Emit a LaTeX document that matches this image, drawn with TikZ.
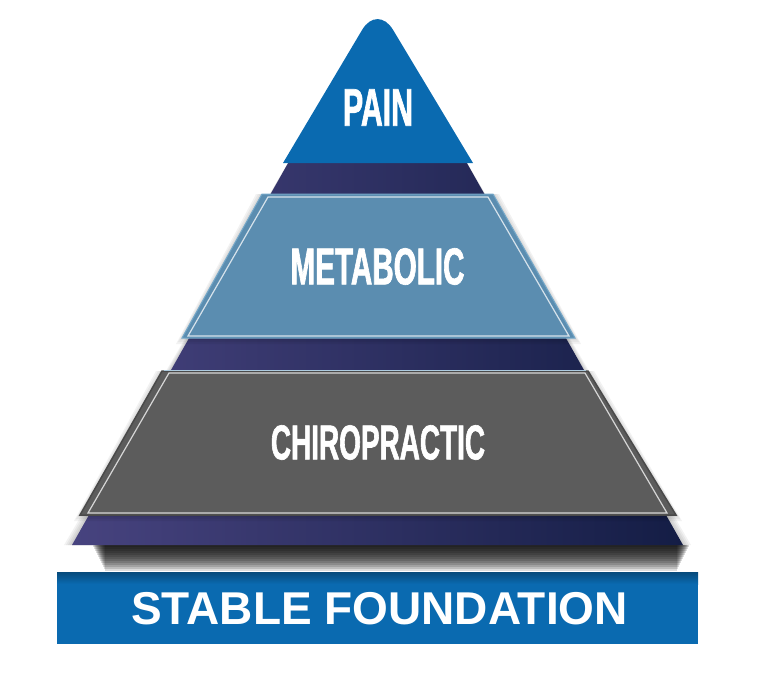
\documentclass[tikz,border=0pt]{standalone}
\usepackage{fontspec}
\setmainfont{Liberation Sans}
\newfontfamily\narrowfont[FakeStretch=0.57,FakeBold=1.2]{Liberation Sans}
\definecolor{painblue}{HTML}{0A6AB0}
\definecolor{metablue}{HTML}{5B8DB0}
\definecolor{metaedge}{HTML}{74A7C8}
\definecolor{chirogray}{HTML}{5C5C5C}
\definecolor{chiroedge}{HTML}{4A4A4A}
\definecolor{bandleft}{HTML}{47437F}
\definecolor{bandright}{HTML}{141D45}
\tikzset{
  layertext/.style={text=white,inner sep=0pt,font=\narrowfont\bfseries},
  innerline/.style={draw=white!75!#1,line width=1.2pt},
  softshadow/.style={fill=black,opacity=.05},
}

\begin{document}
\begin{tikzpicture}[x=1pt,y=-1pt]
  \useasboundingbox (0,0) rectangle (770,697);
  % shadows
  \foreach \i in {1,...,13}
    \fill[black,opacity=.14] (92+\i,545) rectangle (690-\i,545+2*\i);
  \foreach \i in {2,4,6,8}
    \fill[softshadow] (72-\i,545) -- (683+\i,545) -- (459.5,150) -- (295.5,150) -- cycle;
  % dark body of the pyramid
  \shade[left color=bandleft,right color=bandright]
    (72,545) -- (683,545) -- (459.5,150) -- (295.5,150) -- cycle;
  % top
  \fill[painblue]
    (283,163) [rounded corners=30pt] -- (377.5,4) [sharp corners] -- (473,163) -- cycle;
  \node[layertext,font=\narrowfont\bfseries\fontsize{53}{53}\selectfont]
    (pain) at (378,107.5) {PAIN};
  % middle layer
  \foreach \i in {2,4,6}
    \fill[softshadow] (262-\i,194) -- (493+\i,194) -- (575+\i,338+\i) -- (182-\i,338+\i) -- cycle;
  \fill[metablue,draw=metaedge,line width=1pt]
    (262,194) -- (493,194) -- (575,338) -- (182,338) -- cycle;
  \draw[innerline=metablue]
    (268,197) -- (488,197) -- (569,336) -- (188,336) -- cycle;
  \node[layertext,font=\narrowfont\bfseries\fontsize{52}{52}\selectfont]
    (metabolic) at (377.5,266.5) {METABOLIC};
  % lower layer
  \foreach \i in {2,4,6}
    \fill[softshadow] (162-\i,371) -- (588+\i,371) -- (676+\i,515+\i) -- (80-\i,515+\i) -- cycle;
  \fill[chirogray,draw=chiroedge,line width=1.5pt]
    (162,371) -- (588,371) -- (676,515) -- (80,515) -- cycle;
  \draw[innerline=chirogray]
    (169,373) -- (585,373) -- (667,513) -- (88,513) -- cycle;
  \draw[line width=1pt,color=metaedge!60!white] (164,370.5) -- (586,370.5);
  \node[layertext,font=\narrowfont\bfseries\fontsize{49}{49}\selectfont]
    (chiro) at (378,442.5) {CHIROPRACTIC};
  % foundation
  \fill[painblue] (57,572) rectangle (698,644);
  \shade[top color=painblue!70!black,bottom color=painblue] (57,572) rectangle (698,584);
  \node[text=white,inner sep=0pt,font=\bfseries\fontsize{46}{46}\selectfont]
    (foundation) at (379.5,609) {STABLE FOUNDATION};
\end{tikzpicture}
\end{document}
